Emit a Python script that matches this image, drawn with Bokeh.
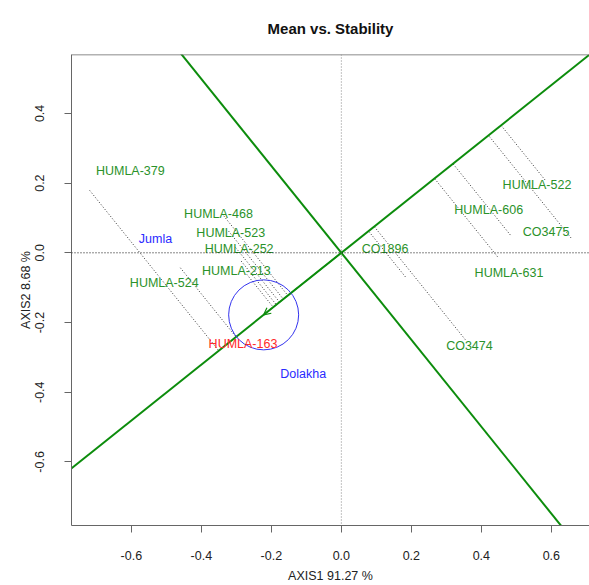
import math
from bokeh.plotting import figure
from bokeh.models import (Range1d, FixedTicker, PrintfTickFormatter, Span, Arrow,
                          OpenHead, Title)
from bokeh.core.properties import value
from bokeh.embed import file_html
from bokeh.resources import INLINE

# ---------------- data ----------------
genotypes = ["HUMLA-379", "HUMLA-468", "HUMLA-523", "HUMLA-252", "HUMLA-213",
             "HUMLA-524", "HUMLA-163", "CO1896", "CO3474", "HUMLA-631",
             "CO3475", "HUMLA-606", "HUMLA-522"]
# genotype scores (origin of projection lines)
score_x = [-0.719, -0.336, -0.322, -0.302, -0.286, -0.460, -0.270,
           0.183, 0.354, 0.446, 0.656, 0.483, 0.582]
score_y = [0.179, 0.106, 0.062, 0.015, -0.024, -0.043, -0.062,
           -0.069, -0.249, -0.011, 0.043, 0.051, 0.209]
# genotype label positions
label_x = [-0.603, -0.351, -0.316, -0.292, -0.300, -0.506, -0.281,
           0.125, 0.366, 0.479, 0.585, 0.421, 0.559]
label_y = [0.234, 0.112, 0.058, 0.012, -0.051, -0.086, -0.262,
           0.011, -0.266, -0.059, 0.060, 0.124, 0.195]
label_colors = ["#2a922a"] * 6 + ["#ff2a2a"] + ["#2a922a"] * 6

environments = ["Jumla", "Dolakha"]
env_x = [-0.531, -0.109]
env_y = [0.041, -0.349]

avg_env = [-0.222, -0.178]   # average environment coordinate
circle_radius = [0.1]

x_ticks = [-0.6, -0.4, -0.2, 0.0, 0.2, 0.4, 0.6]
y_ticks = [-0.6, -0.4, -0.2, 0.0, 0.2, 0.4]

title_text = "Mean vs. Stability"
xlab = "AXIS1 91.27 %"
ylab = "AXIS2 8.68 %"

# ---------------- figure ----------------
FONT = "Liberation Sans"
W, H = 589, 585
ML, MR, MT, MB = 71, 0, 52, 60
scale = 350.0
x0 = -0.771
y1 = 0.569
x1 = x0 + (W - ML - MR) / scale
y0 = y1 - (H - MT - MB) / scale

p = figure(width=W, height=H, output_backend="svg", toolbar_location=None,
           x_range=Range1d(x0, x1), y_range=Range1d(y0, y1),
           min_border_left=ML, min_border_right=MR, min_border_top=MT,
           min_border_bottom=MB)
p.title = Title(text=title_text, align="center", text_font=FONT,
                text_font_size="15px", text_font_style="bold",
                text_color="#111111", standoff=35)
p.grid.visible = False
p.outline_line_color = None
p.background_fill_color = "white"
p.border_fill_color = "white"

for ax in (p.xaxis[0], p.yaxis[0]):
    ax.axis_line_color = "#666666"
    ax.major_tick_line_color = "#666666"
    ax.minor_tick_line_color = None
    ax.major_tick_in = 0
    ax.major_tick_out = 7
    ax.major_label_text_font = FONT
    ax.major_label_text_font_size = "12.5px"
    ax.major_label_text_color = "#222222"
    ax.axis_label_text_font = FONT
    ax.axis_label_text_font_size = "12.5px"
    ax.axis_label_text_font_style = "normal"
    ax.axis_label_text_color = "#222222"
    ax.formatter = PrintfTickFormatter(format="%.1f")

p.xaxis.ticker = FixedTicker(ticks=x_ticks)
p.yaxis.ticker = FixedTicker(ticks=y_ticks)
p.xaxis.axis_label = xlab
p.yaxis.axis_label = ylab
p.xaxis.major_label_standoff = 18
p.xaxis.axis_label_standoff = 6
p.yaxis.major_label_orientation = "parallel"
p.yaxis.major_label_standoff = 20
p.yaxis.axis_label_standoff = 0

# top border
p.add_layout(Span(location=y1, dimension="width", line_color="#666666", line_width=1.5))

# reference dotted axes
p.add_layout(Span(location=0, dimension="width", line_color="#111111",
                  line_dash="1 2", line_width=1))
p.add_layout(Span(location=0, dimension="height", line_color="#888888",
                  line_dash="1 2", line_width=1))

# average environment axis (AEC)
ax_, ay_ = avg_env
norm = math.hypot(ax_, ay_)
ux, uy = -ax_ / norm, -ay_ / norm   # pointing to positive side

# projection lines
fx, fy = [], []
for sx, sy in zip(score_x, score_y):
    t = sx * ux + sy * uy
    fx.append(t * ux)
    fy.append(t * uy)
p.segment(score_x, score_y, fx, fy, line_color="#333333", line_dash="1 2",
          line_width=1)

GREEN = "#0c8c0c"
L = 3.0
p.line([-L * ux, L * ux], [-L * uy, L * uy], line_color=GREEN, line_width=2)
p.line([L * uy, -L * uy], [-L * ux, L * ux], line_color=GREEN, line_width=2)

# arrow to average environment
p.add_layout(Arrow(end=OpenHead(size=7, line_color=GREEN, line_width=1.2),
                   x_start=0, y_start=0, x_end=ax_, y_end=ay_,
                   line_color=GREEN, line_width=1.2))

# circle around average environment
p.circle([ax_], [ay_], radius=circle_radius[0], fill_color=None,
         line_color="#3333ee", line_width=1)

# genotype labels
p.text(label_x, label_y, text=genotypes, text_color=label_colors,
       text_font=value(FONT), text_font_size="12.5px",
       text_align="center", text_baseline="middle")

# environment labels
p.text(env_x, env_y, text=environments, text_color="#2a2aff",
       text_font=value(FONT), text_font_size="12.5px",
       text_align="center", text_baseline="middle")

open("out.html", "w").write(file_html(p, INLINE))
